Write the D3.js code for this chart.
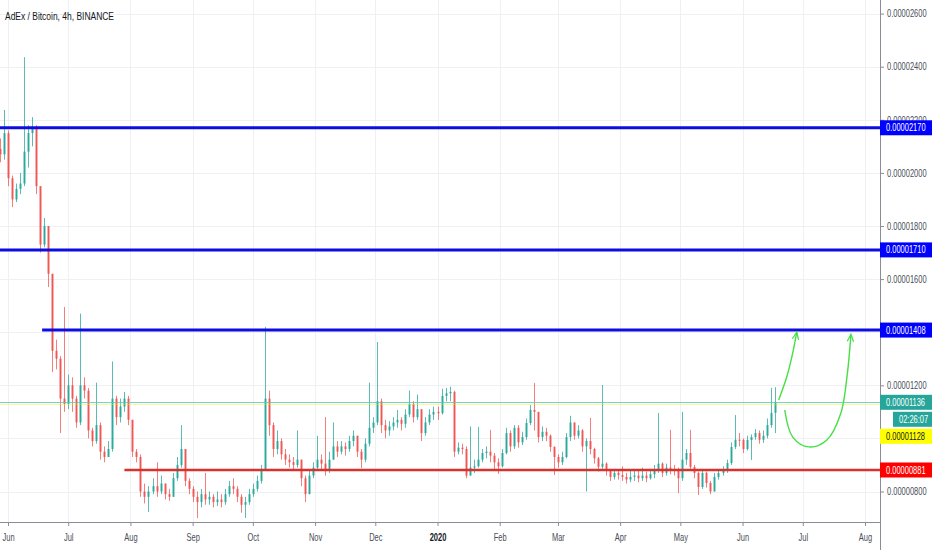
<!DOCTYPE html>
<html><head><meta charset="utf-8">
<script src="https://cdn.jsdelivr.net/npm/d3@7"></script>
<style>body{margin:0;background:#fff}svg{display:block}</style>
</head><body>
<svg id="chart" width="932" height="550"></svg>
<script>
// ---------- DATA (prices in units of 1e-8 BTC) ----------
const chartTitle = "AdEx / Bitcoin, 4h, BINANCE";
const candleStart = "2019-05-28";
const candleStepDays = 2;
const firstOpen = 2090;
const closes = [
 2070,2150,1980,1900,1940,1960,2080,2150,2170,1950,
 1730,1800,1620,1330,1300,1150,1130,1200,1150,1060,
 1200,1180,1030,990,1050,950,930,960,1150,1080,
 1120,1150,1070,950,930,800,780,800,820,800,
 830,790,780,850,900,960,840,810,780,760,
 790,770,780,760,770,760,790,820,810,780,
 750,760,790,810,840,880,1150,1050,960,990,
 940,920,910,900,920,850,790,860,890,920,
 905,880,920,970,950,970,960,990,1010,950,
 920,980,1040,1060,1140,1050,1030,1045,1060,1070,
 1055,1090,1130,1080,1110,1020,1060,1090,1100,1095,
 1160,1170,1175,950,965,960,860,890,895,920,
 945,950,935,910,895,945,1020,970,1040,985,
 1005,1058,1107,1100,1005,1025,1010,968,930,910,
 930,1005,1060,1010,1030,970,990,960,925,893,
 905,880,855,870,862,855,845,855,860,850,
 860,850,865,880,905,870,890,885,880,850,
 920,945,892,870,817,870,832,800,855,870,
 880,907,968,995,994,960,994,1005,1020,995,
 1010,1050,1096,1136];
const highs = [
 2130,2237,2160,1990,1960,2000,2436,2180,2210,2180,
 1950,1830,1800,1600,1372,1310,1495,1240,1230,1160,
 1470,1230,1190,1040,1210,1060,970,990,1290,1160,
 1150,1175,1160,1070,960,940,830,820,850,910,
 860,830,810,870,930,1050,960,850,820,800,
 810,870,800,790,800,790,810,840,850,820,
 790,780,810,830,860,900,1420,1180,1060,1030,
 1000,960,940,930,1030,920,860,880,910,1010,
 940,1080,950,1060,990,990,985,1010,1030,1010,
 960,1000,1210,1080,1363,1150,1070,1065,1080,1107,
 1080,1110,1180,1140,1165,1110,1080,1110,1120,1120,
 1187,1190,1195,1180,985,980,970,1045,920,1043,
 960,970,1032,945,925,960,1040,1030,1050,1050,
 1025,1075,1125,1209,1100,1045,1040,1015,970,940,
 950,1020,1085,1060,1050,1035,1000,1077,965,930,
 1201,910,885,885,880,895,870,880,885,880,
 890,875,885,900,1096,910,905,1032,900,890,
 1100,960,1032,900,875,885,875,840,870,885,
 895,920,985,1088,1020,1000,1010,1015,1035,1030,
 1030,1075,1190,1193];
const lows = [
 2040,2050,1950,1871,1890,1920,1950,2020,2100,1920,
 1700,1720,1570,1250,1260,1020,1100,1110,1100,1040,
 1050,1150,1000,970,980,920,910,930,950,1050,
 1060,1100,1050,930,910,780,755,723,790,780,
 790,770,765,780,840,890,820,790,760,700,
 740,750,750,740,745,740,750,780,790,760,
 720,700,750,780,800,830,880,1010,930,940,
 920,900,890,880,890,820,760,790,850,880,
 880,860,870,920,930,940,935,950,970,930,
 888,910,970,1020,1050,1020,1000,1010,1030,1040,
 1030,1040,1080,1060,1070,990,1010,1050,1070,1070,
 1090,1140,1140,930,940,940,850,860,870,890,
 910,925,910,880,866,890,940,950,960,965,
 975,995,1050,1030,985,990,990,950,862,890,
 900,925,990,995,1000,950,800,940,905,875,
 880,860,840,845,845,840,830,835,840,835,
 840,835,845,850,870,855,860,865,860,794,
 840,900,880,850,787,810,815,790,800,845,
 860,870,900,960,970,945,955,919,995,980,
 983,1000,1040,1020];

const priceTicks = [800,1000,1200,1400,1600,1800,2000,2200,2400,2600];
// labels hidden by the price tags (as on the reference) are left out
const priceTickLabels = [800,1200,1600,1800,2000,2200,2400,2600];
const monthTicks = ["2019-06-01","2019-07-01","2019-08-01","2019-09-01","2019-10-01","2019-11-01","2019-12-01",
 "2020-01-01","2020-02-01","2020-03-01","2020-04-01","2020-05-01","2020-06-01","2020-07-01","2020-08-01"];

const blueLevels = [2170, 1710, 1408];
const blueLevelStarts = ["2019-05-20", "2019-05-20", "2019-06-18"];
const redLevel = 881;
const redLevelStart = "2019-07-29";
const lastPrice = 1136;
const countdownText = "02:26:07";
const yellowPrice = 1128;

const arrowUp = [["2020-06-19",1145],["2020-06-23",1231],["2020-06-26",1322],["2020-06-28",1400]];
const arrowDip = [["2020-06-22",1107],["2020-06-26",1005],["2020-07-04",968],["2020-07-13",994],
 ["2020-07-20",1096],["2020-07-23",1231],["2020-07-25",1392]];

// ---------- STYLE / LAYOUT ----------
const W = 932, H = 550, plotR = 880, plotB = 522;
const SX = 0.75;
const FONT = "'Liberation Sans', Arial, sans-serif";
const UP = "#26a69a", DOWN = "#ef5350";
const parseDate = d3.utcParse("%Y-%m-%d");
const fmtPrice = v => (v / 1e8).toFixed(8);

const xs = d3.scaleUtc().domain([parseDate("2019-06-01"), parseDate("2020-08-01")]).range([8, 865]);
const ys = d3.scaleLinear().domain([800, 2600]).range([491.5, 13.6]);

const svg = d3.select("#chart");
svg.append("rect").attr("width", W).attr("height", H).attr("fill", "#fff");
const defs = svg.append("defs");
defs.append("clipPath").attr("id", "plotclip").append("rect").attr("width", plotR).attr("height", plotB);
const mk = defs.append("marker").attr("id", "ah").attr("viewBox", "0 0 10 10").attr("refX", 9).attr("refY", 5)
  .attr("markerWidth", 9).attr("markerHeight", 9).attr("markerUnits", "userSpaceOnUse").attr("orient", "auto");
mk.append("path").attr("d", "M1,1.5 L9,5 L1,8.5").attr("fill", "none").attr("stroke", "#45e045").attr("stroke-width", 1.4);

// grid
const grid = svg.append("g");
grid.selectAll(".hg").data(priceTicks).join("line")
  .attr("x1", 0).attr("x2", plotR).attr("y1", d => Math.round(ys(d)) + 0.5).attr("y2", d => Math.round(ys(d)) + 0.5)
  .attr("stroke", "#eef0f4");
grid.selectAll(".vg").data(monthTicks.map(parseDate)).join("line")
  .attr("y1", 0).attr("y2", plotB).attr("x1", d => Math.round(xs(d)) + 0.5).attr("x2", d => Math.round(xs(d)) + 0.5)
  .attr("stroke", "#eef0f4");

// title
svg.append("text").attr("transform", `translate(5,20) scale(0.77,1)`).attr("font-family", FONT)
  .attr("font-size", 11).attr("fill", "#131722").text(chartTitle);

// candles
const t0 = parseDate(candleStart);
const candles = closes.map((c, i) => {
  const o = i ? closes[i - 1] : firstOpen;
  return { date: d3.utcDay.offset(t0, i * candleStepDays), o, c,
           h: Math.max(highs[i], o, c), l: Math.min(lows[i], o, c) };
});
const plot = svg.append("g").attr("clip-path", "url(#plotclip)");
const cg = plot.append("g");
cg.selectAll(".wick").data(candles).join("line")
  .attr("x1", d => Math.round(xs(d.date)) + 0.5).attr("x2", d => Math.round(xs(d.date)) + 0.5)
  .attr("y1", d => ys(d.h)).attr("y2", d => ys(d.l))
  .attr("stroke", d => d.c >= d.o ? UP : DOWN).attr("stroke-opacity", 0.75).attr("stroke-width", 1);
cg.selectAll(".body").data(candles).join("rect")
  .attr("x", d => Math.round(xs(d.date)) - 0.5).attr("width", 2)
  .attr("y", d => ys(Math.max(d.o, d.c))).attr("height", d => Math.max(1, Math.abs(ys(d.o) - ys(d.c))))
  .attr("fill", d => d.c >= d.o ? UP : DOWN).attr("fill-opacity", 0.9);

// level lines
plot.selectAll(".blue").data(blueLevels).join("line")
  .attr("x1", (d, i) => Math.max(0, xs(parseDate(blueLevelStarts[i])))).attr("x2", plotR)
  .attr("y1", d => ys(d)).attr("y2", d => ys(d)).attr("stroke", "#0d0de0").attr("stroke-width", 3);
plot.append("line").attr("x1", xs(parseDate(redLevelStart))).attr("x2", plotR)
  .attr("y1", ys(redLevel)).attr("y2", ys(redLevel)).attr("stroke", "#d8322e").attr("stroke-width", 2.5);
plot.append("line").attr("x1", 0).attr("x2", plotR).attr("y1", ys(yellowPrice)).attr("y2", ys(yellowPrice))
  .attr("stroke", "#e8e84a").attr("stroke-opacity", 0.45).attr("stroke-width", 1);
plot.append("line").attr("x1", 0).attr("x2", plotR).attr("y1", Math.round(ys(lastPrice)) + 0.5).attr("y2", Math.round(ys(lastPrice)) + 0.5)
  .attr("stroke", "#5cc9a0").attr("stroke-opacity", 0.8).attr("stroke-width", 1);

// hand-drawn arrows
const arrowLine = d3.line().x(d => xs(parseDate(d[0]))).y(d => ys(d[1])).curve(d3.curveCatmullRom.alpha(0.5));
[arrowUp, arrowDip].forEach(a => {
  svg.append("path").attr("d", arrowLine(a)).attr("fill", "none").attr("stroke", "#45e045")
    .attr("stroke-width", 1.4).attr("marker-end", "url(#ah)");
});

// axes lines
svg.append("line").attr("x1", 0).attr("x2", plotR).attr("y1", plotB + 0.5).attr("y2", plotB + 0.5).attr("stroke", "#8a8d96");
svg.append("line").attr("x1", plotR + 0.5).attr("x2", plotR + 0.5).attr("y1", 0).attr("y2", H).attr("stroke", "#8a8d96");

// price axis
const yAxis = svg.append("g").attr("transform", `translate(${plotR},0)`)
  .call(d3.axisRight(ys).tickValues(priceTickLabels).tickSize(4).tickFormat(fmtPrice));
yAxis.select(".domain").remove();
yAxis.selectAll("line").attr("stroke", "#8a8d96");
yAxis.selectAll("text").attr("x", 7 / SX).attr("transform", `scale(${SX},1)`)
  .attr("font-family", FONT).attr("font-size", 10).attr("fill", "#4a4d57");

// time axis
const xAxis = svg.append("g").attr("transform", `translate(0,${plotB})`)
  .call(d3.axisBottom(xs).tickValues(monthTicks.map(parseDate)).tickSize(4)
    .tickFormat(d => d.getUTCMonth() === 0 ? d3.utcFormat("%Y")(d) : d3.utcFormat("%b")(d)));
xAxis.select(".domain").remove();
xAxis.selectAll("line").attr("stroke", "#8a8d96");
xAxis.selectAll("text").attr("y", 12).attr("transform", `scale(${SX},1)`)
  .attr("font-family", FONT).attr("font-size", 10)
  .attr("fill", d => d.getUTCMonth() === 0 ? "#131722" : "#4a4d57")
  .attr("font-weight", d => d.getUTCMonth() === 0 ? "bold" : "normal");

// price labels
const boxH = 15;
function priceBox(yc, bg, fg, txt, x0) {
  const g = svg.append("g");
  g.append("rect").attr("x", x0).attr("y", yc - boxH / 2).attr("width", W - x0).attr("height", boxH).attr("fill", bg);
  g.append("text").attr("transform", `translate(${x0 + 6},${yc + 3.6}) scale(${SX},1)`)
    .attr("font-family", FONT).attr("font-size", 10).attr("fill", fg).text(txt);
}
blueLevels.forEach(v => priceBox(ys(v), "#0000ff", "#fff", fmtPrice(v), plotR));
priceBox(ys(redLevel), "#ff0000", "#fff", fmtPrice(redLevel), plotR);
const stack = [
  { y: ys(lastPrice), bg: "#26a69a", fg: "#fff", txt: fmtPrice(lastPrice), x0: plotR },
  { y: ys(lastPrice), bg: "#26a69a", fg: "#fff", txt: countdownText, x0: 893 },
  { y: ys(yellowPrice), bg: "#ffff00", fg: "#131722", txt: fmtPrice(yellowPrice), x0: plotR }
];
let prevY = -Infinity;
stack.forEach(s => { const yy = Math.max(s.y, prevY + boxH + 2); prevY = yy; priceBox(yy, s.bg, s.fg, s.txt, s.x0); });
</script>
</body></html>
